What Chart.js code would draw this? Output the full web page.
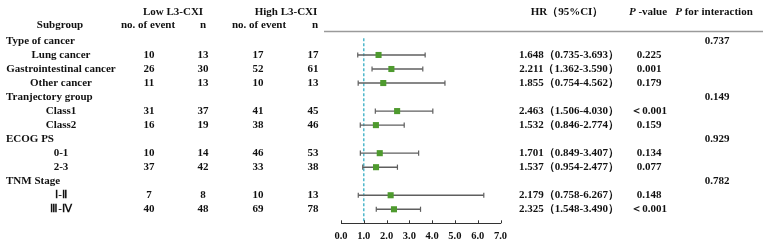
<!DOCTYPE html>
<html>
<head>
<meta charset="utf-8">
<script src="https://cdn.jsdelivr.net/npm/chart.js@4.4.1/dist/chart.umd.min.js"></script>
<style>
  html, body { margin: 0; padding: 0; background: #fff; }
  #wrap { width: 767px; height: 241px; }
</style>
</head>
<body>
<div id="wrap"><canvas id="forest" width="767" height="241"></canvas></div>
<script>
const groups = ['Type of cancer', 'Tranjectory group', 'ECOG PS', 'TNM Stage'];
const pInteraction = ['0.737', '0.149', '0.929', '0.782'];

const subgroups = ['Lung cancer', 'Gastrointestinal cancer', 'Other cancer', 'Class1', 'Class2', '0-1', '2-3', 'Ⅰ-Ⅱ', 'Ⅲ-Ⅳ'];
const groupOf = [0, 0, 0, 1, 1, 2, 2, 3, 3];
const lowEvents = [10, 26, 11, 31, 16, 10, 37, 7, 40];
const lowN = [13, 30, 13, 37, 19, 14, 42, 8, 48];
const highEvents = [17, 52, 10, 41, 38, 46, 33, 10, 69];
const highN = [17, 61, 13, 45, 46, 53, 38, 13, 78];
const hr = [1.648, 2.211, 1.855, 2.463, 1.532, 1.701, 1.537, 2.179, 2.325];
const ciLow = [0.735, 1.362, 0.754, 1.506, 0.846, 0.849, 0.954, 0.758, 1.548];
const ciHigh = [3.693, 3.590, 4.562, 4.030, 2.774, 3.407, 2.477, 6.267, 3.490];
const pValue = ['0.225', '0.001', '0.179', '＜0.001', '0.159', '0.134', '0.077', '0.148', '＜0.001'];
const xTicks = [0, 1, 2, 3, 4, 5, 6, 7];
const refValue = 1;

// row index of each line of the table
const groupRow = [];
const subRow = [];
let r = 0;
groups.forEach((g, gi) => {
  groupRow.push(r++);
  subgroups.forEach((s, si) => { if (groupOf[si] === gi) subRow[si] = r++; });
});

const FONT = '"Liberation Serif", "Times New Roman", serif';
const INK = '#111';
const CI_COLOR = '#5f5f5f';
const BOX_COLOR = '#4e9a2e';

// table columns (centre x)
const col = { label: 61, lowEv: 149, lowN: 203, highEv: 258, highN: 313, hr: 569, p: 649, pInt: 717 };

const ciSets = subgroups.map((s, i) => ({
  data: [{ x: ciLow[i], y: subRow[i] }, { x: ciHigh[i], y: subRow[i] }],
  showLine: true,
  borderColor: CI_COLOR,
  borderWidth: 1.4,
  pointStyle: 'line',
  rotation: 90,
  pointRadius: 2.6,
  pointBorderColor: CI_COLOR,
  pointBorderWidth: 1.2,
  order: 2
}));

const tablePlugin = {
  id: 'tableText',
  afterDraw(chart) {
    const ctx = chart.ctx;
    const y = chart.scales.y;
    const x = chart.scales.x;
    ctx.save();
    ctx.fillStyle = INK;
    ctx.textBaseline = 'middle';
    const bold = size => 'bold ' + size + 'px ' + FONT;
    const text = (t, cx, cy, align) => {
      ctx.textAlign = align || 'center';
      ctx.fillText(t, cx, cy);
    };
    const italicP = (rest, cx, cy) => {
      ctx.font = 'italic bold 11px ' + FONT;
      const wP = ctx.measureText('P').width;
      ctx.font = bold(11);
      const wR = ctx.measureText(rest).width;
      const left = cx - (wP + wR) / 2;
      ctx.font = 'italic bold 11px ' + FONT;
      text('P', left, cy, 'left');
      ctx.font = bold(11);
      text(rest, left + wP, cy, 'left');
    };

    // header
    ctx.font = bold(11);
    text('Low L3-CXI', 173, 12);
    text('High L3-CXI', 286, 12);
    text('HR（95%CI）', 567, 12);
    italicP(' -value', 648, 12);
    italicP(' for interaction', 714, 12);
    text('Subgroup', 60, 25);
    text('no. of event', 148, 25);
    text('n', 203, 25);
    text('no. of event', 259, 25);
    text('n', 315, 25);

    // header rule
    ctx.strokeStyle = '#9a9a9a';
    ctx.lineWidth = 1.5;
    ctx.beginPath();
    ctx.moveTo(324, 31.5);
    ctx.lineTo(763, 31.5);
    ctx.stroke();

    // group rows
    groups.forEach((g, gi) => {
      const py = y.getPixelForValue(groupRow[gi]);
      text(g, 6, py, 'left');
      text(pInteraction[gi], col.pInt, py);
    });

    // subgroup rows
    subgroups.forEach((s, i) => {
      const py = y.getPixelForValue(subRow[i]);
      text(s, col.label, py);
      text(String(lowEvents[i]), col.lowEv, py);
      text(String(lowN[i]), col.lowN, py);
      text(String(highEvents[i]), col.highEv, py);
      text(String(highN[i]), col.highN, py);
      text(hr[i].toFixed(3) + '（' + ciLow[i].toFixed(3) + '-' + ciHigh[i].toFixed(3) + '）', col.hr, py);
      text(pValue[i], col.p, py);
    });

    // small upward ticks on the HR axis
    ctx.strokeStyle = '#333';
    ctx.lineWidth = 1;
    const base = chart.chartArea.bottom;
    xTicks.forEach(v => {
      const px = Math.round(x.getPixelForValue(v)) + 0.5;
      ctx.beginPath();
      ctx.moveTo(px, base);
      ctx.lineTo(px, base - 3);
      ctx.stroke();
    });
    ctx.restore();
  }
};

new Chart(document.getElementById('forest'), {
  type: 'scatter',
  data: {
    datasets: [
      {
        data: hr.map((v, i) => ({ x: v, y: subRow[i] })),
        pointStyle: 'rect',
        pointRadius: 4.3,
        backgroundColor: BOX_COLOR,
        borderColor: BOX_COLOR,
        borderWidth: 0,
        order: 1
      },
      ...ciSets,
      {
        data: [{ x: refValue, y: -0.2 }, { x: refValue, y: 13 }],
        showLine: true,
        borderColor: '#45b4c8',
        borderWidth: 1.4,
        borderDash: [3, 2],
        pointRadius: 0,
        order: 3
      }
    ]
  },
  options: {
    responsive: false,
    animation: false,
    clip: false,
    layout: { padding: { left: 341, right: 266.5, top: 12.9, bottom: 0 } },
    plugins: { legend: { display: false }, tooltip: { enabled: false } },
    scales: {
      x: {
        type: 'linear',
        min: 0,
        max: 7,
        afterFit: s => { s.height = 17.7; },
        afterBuildTicks: s => { s.ticks = xTicks.map(v => ({ value: v })); },
        ticks: {
          padding: 7,
          color: INK,
          font: { family: FONT, size: 10.5, weight: 'bold' },
          callback: v => Number(v).toFixed(1)
        },
        grid: { display: false, drawTicks: false },
        border: { display: true, color: '#333', width: 1 }
      },
      y: {
        type: 'linear',
        reverse: true,
        min: -2,
        max: 13,
        display: false
      }
    }
  },
  plugins: [tablePlugin]
});
</script>
</body>
</html>
